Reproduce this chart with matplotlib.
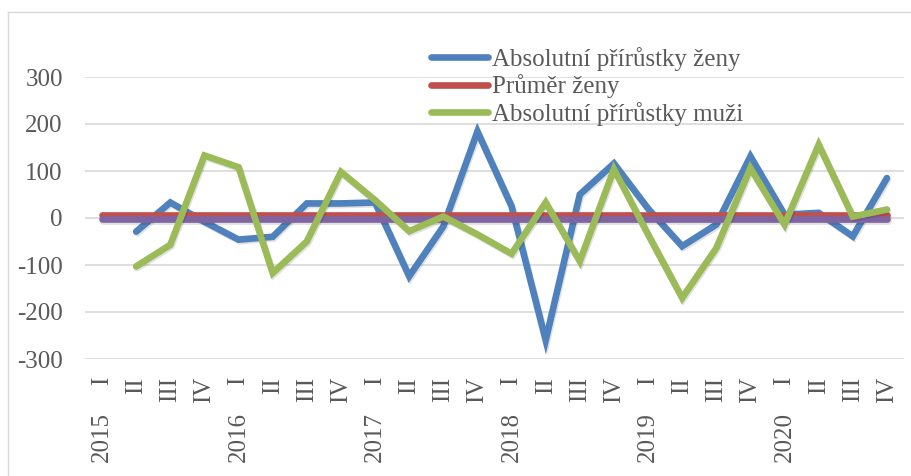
import matplotlib
matplotlib.use("Agg")
import matplotlib.pyplot as plt
import matplotlib.patheffects as pe
from matplotlib.lines import Line2D
import numpy as np

# --- data (čtvrtletí 2015-2020) ---
kvartaly = ["I", "II", "III", "IV"] * 6
roky = ["2015", "2016", "2017", "2018", "2019", "2020"]
zeny = [np.nan, -29, 33, -8, -46, -40, 31, 31, 33, -124, -18, 184,
        25, -260, 50, 116, 20, -60, -14, 131, 7, 11, -39, 85]
muzi = [np.nan, -103, -57, 133, 108, -117, -50, 98, 38, -28, 3, -35,
        -76, 33, -92, 104, -35, -170, -64, 106, -14, 156, 3, 18]
prumer_zeny = [6] * 24
prumer_muzi = [-2] * 24

plt.rcParams["font.family"] = ["Liberation Serif", "DejaVu Serif"]
plt.rcParams["axes.unicode_minus"] = False
GRAY = "#595959"

fig = plt.figure(figsize=(9.12, 4.76), dpi=100)
W, H = 912, 476
ax = fig.add_axes([85 / W, 1 - 359 / H, (904 - 85) / W, (359 - 77) / H])

x = np.arange(len(kvartaly))
shadow = [pe.SimpleLineShadow(offset=(0.8, -1.2), alpha=0.12, shadow_color="black"),
          pe.Normal()]
kw = dict(lw=4.8, solid_capstyle="round", solid_joinstyle="miter", path_effects=shadow)
l_z, = ax.plot(x, zeny, color="#4F81BD", zorder=3, **kw)
l_pz, = ax.plot(x, prumer_zeny, color="#C0504D", zorder=4, **kw)
ax.plot(x, prumer_muzi, color="#8064A2", zorder=5, **kw)
l_m, = ax.plot(x, muzi, color="#9BBB59", zorder=6, **kw)

ax.set_xlim(-0.5, len(kvartaly) - 0.5)
ax.set_ylim(-300, 300)
ax.set_yticks(range(-300, 301, 100))
ax.grid(axis="y", color="#d9d9d9", lw=1.2)
ax.set_axisbelow(True)
for s in ax.spines.values():
    s.set_visible(False)
ax.tick_params(axis="y", length=0, pad=16, labelsize=18, labelcolor=GRAY)
ax.set_xticks(x)
ax.set_xticklabels(kvartaly, rotation=90)
ax.tick_params(axis="x", length=0, pad=13, labelsize=18, labelcolor=GRAY)

# roky pod čtvrtletími
for i, r in enumerate(roky):
    ax.annotate(r, xy=(i * 4, 0), xycoords=("data", "axes fraction"),
                xytext=(0, -53), textcoords="offset pixels",
                rotation=90, ha="center", va="top", fontsize=18, color=GRAY)

# rámeček grafu (jen horní a levá hrana viditelná)
fig.add_artist(Line2D([8.5 / W, 1], [1 - 11.5 / H] * 2, color="#d9d9d9", lw=1))
fig.add_artist(Line2D([8.5 / W] * 2, [0, 1 - 11.5 / H], color="#d9d9d9", lw=1))

leg = fig.legend([l_z, l_pz, l_m],
                 ["Absolutní přírůstky ženy", "Průměr ženy", "Absolutní přírůstky muži"],
                 loc="upper left", bbox_to_anchor=(431 / W, 1 - 47 / H),
                 frameon=False, fontsize=18, handlelength=2.3,
                 handletextpad=0.15, labelspacing=0.14, borderpad=0,
                 borderaxespad=0)
for t in leg.get_texts():
    t.set_color(GRAY)
for h in leg.legend_handles:
    h.set_path_effects([])

fig.savefig("out.png", dpi=100)
